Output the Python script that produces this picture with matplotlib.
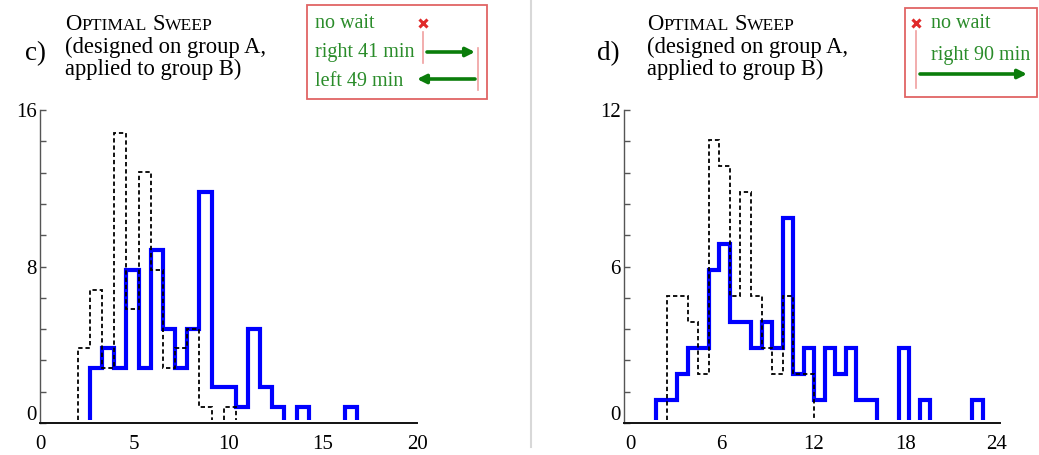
import numpy as np
import matplotlib
matplotlib.use("Agg")
import matplotlib.pyplot as plt
from matplotlib.patches import Rectangle
from matplotlib.transforms import ScaledTranslation

plt.rcParams['font.family'] = ['Liberation Serif', 'DejaVu Serif']

# ---------------- data ----------------
# panel c) : bin edges (minutes) and counts
edges_c = [2.00, 2.65, 3.29, 3.94, 4.58, 5.23, 5.87, 6.52, 7.16, 7.81, 8.45, 9.10,
           9.74, 10.39, 11.03, 11.68, 12.32, 12.97, 13.61, 14.26, 14.90, 15.55,
           16.19, 16.84]
sweep_c = [0, 3, 4, 3, 8, 3, 9, 5, 3, 5, 12, 2, 2, 1, 5, 2, 1, 0, 1, 0, 0, 0, 1]
base_c = [4, 7, 3, 15, 6, 13, 8, 3, 4, 5, 1, 0, 1, 0, 0, 0, 0, 0, 0, 0, 0, 0, 0]

# panel d)
edges_d = [1.72, 2.41, 3.10, 3.79, 4.48, 5.17, 5.85, 6.54, 7.23, 7.92, 8.61, 9.30,
           9.99, 10.68, 11.37, 12.06, 12.74, 13.43, 14.12, 14.81, 15.50, 16.19,
           16.88, 17.57, 18.26, 18.95, 19.63, 20.32, 21.01, 21.70, 22.39, 23.08]
sweep_d = [1, 1, 2, 3, 3, 6, 7, 4, 4, 3, 4, 3, 8, 2, 3, 1, 3, 2, 3, 1, 1, 0, 0, 3,
           0, 1, 0, 0, 0, 0, 1]
base_d = [0, 5, 5, 4, 2, 11, 10, 5, 9, 5, 3, 2, 5, 2, 2, 0, 0, 0, 0, 0, 0, 0, 0, 0,
          0, 0, 0, 0, 0, 0, 0]

xticks_c = [0, 5, 10, 15, 20]
xticks_d = [0, 6, 12, 18, 24]
ymax_c = 16
ymax_d = 12

panel_labels = ["c)", "d)"]
title_line2 = "(designed on group A,"
title_line3 = "applied to group B)"
legend_c = ["no wait", "right 41 min", "left 49 min"]
legend_d = ["no wait", "right 90 min"]

# ---------------- figure ----------------
W, H = 1039, 455
fig = plt.figure(figsize=(W / 100, H / 100), dpi=100)

def px_axes(x0, x1, ytop, ybot):
    return fig.add_axes([x0 / W, (H - ybot) / H, (x1 - x0) / W, (ybot - ytop) / H])

BLUE = '#0000ff'

def draw_panel(ax, edges, sweep, base, xlim, xticks, ymax, baseline):
    # the histogram outlines sit a few pixels below the nominal levels
    shift = ax.transData + ScaledTranslation(0, -3.5 / 100, fig.dpi_scale_trans)
    b = np.array(base, dtype=float)
    b[b == 0] = np.nan
    s = np.array(sweep, dtype=float)
    s[s == 0] = np.nan
    ax.stairs(b, edges, baseline=baseline, color='black', lw=1.3,
              linestyle=(0, (2.4, 1.6)), zorder=3, transform=shift)
    ax.stairs(s, edges, baseline=baseline, color=BLUE, lw=3.0, zorder=2,
              transform=shift)
    ax.set_xlim(*xlim)
    ax.set_ylim(0, ymax)
    for sp in ['top', 'right']:
        ax.spines[sp].set_visible(False)
    ax.spines['left'].set_color('#555555')
    ax.spines['left'].set_linewidth(1.0)
    ax.spines['bottom'].set_color('#111111')
    ax.spines['bottom'].set_linewidth(1.4)
    ax.set_xticks(xticks)
    ax.set_xticklabels([str(t) for t in xticks])
    ax.tick_params(axis='x', length=0, pad=8.5, labelsize=15)
    yt = np.linspace(0, ymax, 11)
    ax.set_yticks(yt)
    labs = [''] * 11
    labs[5] = str(ymax // 2)
    labs[10] = str(ymax)
    ax.set_yticklabels(labs)
    ax.tick_params(axis='y', direction='in', length=4, width=1.0,
                   color='#555555', pad=2.5, labelsize=15)
    ax.annotate('0', xy=(0, 0), xycoords=('axes fraction', 'data'),
                xytext=(-3.5, 8), textcoords='offset pixels',
                ha='right', va='center', fontsize=15)
    ax.patch.set_alpha(0)

axc = px_axes(40, 417, 110, 423)
draw_panel(axc, edges_c, sweep_c, base_c, (0, 20), xticks_c, ymax_c, 0.33)

axd = px_axes(624, 1000, 110, 423)
draw_panel(axd, edges_d, sweep_d, base_d, (-0.39, 24.21), xticks_d, ymax_d, 0.26)

# ---------------- overlay for annotations ----------------
ov = fig.add_axes([0, 0, 1, 1], zorder=-1)
ov.set_xlim(0, W)
ov.set_ylim(H, 0)
ov.axis('off')

# separator
ov.plot([531, 531], [0, 447], color='#d8d8d8', lw=1.5)

fig.canvas.draw()
renderer = fig.canvas.get_renderer()

def smallcaps(x, y, text, big=16.3, small=12.6):
    words = text.split(' ')
    cx = x
    for wi, w in enumerate(words):
        pieces = [(w[0], big), (w[1:].upper(), small)]
        for s, fs in pieces:
            t = ov.text(cx, y, s, fontsize=fs, ha='left', va='baseline')
            bb = t.get_window_extent(renderer)
            cx += bb.width
        if wi < len(words) - 1:
            cx += 6.0

GREEN_T = '#2a8c2a'
GREEN_A = '#0b7d0b'
RED = '#e02a2a'
PINK = '#f0a0a0'
BOX = '#e06464'

for lab, tx, lx in [(panel_labels[0], 65, 25), (panel_labels[1], 647, 597)]:
    ov.text(lx, 60, lab, fontsize=19.5, ha='left', va='baseline')
    smallcaps(tx, 29.5, "Optimal Sweep")
    ov.text(tx, 53, title_line2, fontsize=16.3, ha='left', va='baseline')
    ov.text(tx, 75.5, title_line3, fontsize=16.3, ha='left', va='baseline')

# legend c
ov.add_patch(Rectangle((307, 5), 180, 94, fill=False, ec=BOX, lw=1.3))
for txt, yb in zip(legend_c, [28, 57, 86]):
    ov.text(315, yb, txt, fontsize=14.5, color=GREEN_T, ha='left', va='baseline')
ov.plot([423], [22.5], marker='x', ms=5.5, mew=2.2, color=RED, ls='none')
ov.plot([423, 423], [32, 63], color=PINK, lw=1.2)
ov.plot([478, 478], [48, 90], color=PINK, lw=1.2)
ov.annotate('', xy=(475, 52), xytext=(427, 52),
            arrowprops=dict(arrowstyle='-|>', color=GREEN_A, lw=2.6,
                            mutation_scale=13, shrinkA=0, shrinkB=0))
ov.annotate('', xy=(417, 79), xytext=(475, 79),
            arrowprops=dict(arrowstyle='-|>', color=GREEN_A, lw=2.6,
                            mutation_scale=13, shrinkA=0, shrinkB=0))

# legend d
ov.add_patch(Rectangle((905, 8), 132, 89, fill=False, ec=BOX, lw=1.3))
ov.text(931, 28, legend_d[0], fontsize=14.5, color=GREEN_T, ha='left', va='baseline')
ov.text(931, 60, legend_d[1], fontsize=14.5, color=GREEN_T, ha='left', va='baseline')
ov.plot([916], [22.5], marker='x', ms=5.5, mew=2.2, color=RED, ls='none')
ov.plot([916, 916], [31, 88], color=PINK, lw=1.2)
ov.annotate('', xy=(1027, 74), xytext=(920, 74),
            arrowprops=dict(arrowstyle='-|>', color=GREEN_A, lw=2.6,
                            mutation_scale=13, shrinkA=0, shrinkB=0))

fig.savefig('out.png', dpi=100)
